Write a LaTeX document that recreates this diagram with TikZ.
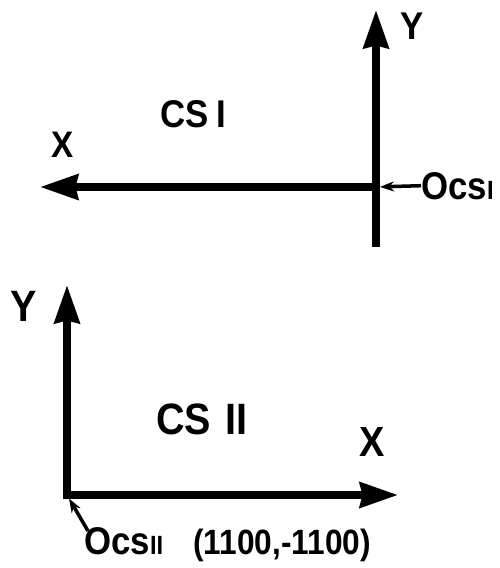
\documentclass[tikz,border=0pt]{standalone}
\usepackage{fontspec}
\setmainfont[FakeStretch=0.9]{Liberation Sans}
\usetikzlibrary{arrows.meta}

\begin{document}
\begin{tikzpicture}[
  x=0.02cm, y=-0.02cm,
  >={Stealth[length=0.76cm, width=0.5cm, inset=0.05cm]},
  axis/.style={line width=4.2pt},
  pointer/.style={line width=2pt, -{Stealth[length=0.28cm, width=0.2cm]}, shorten >=0.08cm},
  axislabel/.style={font=\fontsize{#1}{#1}\selectfont\bfseries, inner sep=0pt},
  origin/.style={font=\fontsize{22}{24}\selectfont\bfseries, inner sep=0pt, anchor=base west}
]
\useasboundingbox (0,0) rectangle (500,568);

% Coordinate system CS I
\coordinate (oI) at (376,187);
\coordinate (yItop) at (376,10);
\coordinate (yIbot) at (376,247);
\coordinate (xIend) at (40,187);
\draw[axis, ->] (yIbot) -- (yItop);
\draw[axis, ->] (oI) -- (xIend);
\node[axislabel=22] (yI) at (412,26) {Y};
\node[axislabel=21] (xI) at (63,145) {X};
\node[axislabel=22] (csI) at (193,114) {CS\hspace{0.16cm}I};
\node[origin] (oIlabel) at (421,199) {Ocs{\fontsize{15}{17}\selectfont I}};
\draw[pointer] (oIlabel.west) -- (oI);

% Coordinate system CS II
\coordinate (oII) at (67,495);
\coordinate (yIItop) at (67,285);
\coordinate (xIIend) at (398,495);
\draw[axis, <->] (yIItop) -- (oII) -- (xIIend);
\node[axislabel=25] (yII) at (24,306) {Y};
\node[axislabel=24] (xII) at (372,442) {X};
\node[axislabel=25] (csII) at (202,419) {CS\hspace{0.3cm}II};
\node[origin] (oIIlabel) at (84,554) {Ocs{\fontsize{15}{17}\selectfont II}\hspace{0.6cm}{\fontsize{20}{22}\selectfont(1100,-1100)}};
\coordinate (pII) at (88,531);
\draw[pointer] (pII) -- (oII);

\end{tikzpicture}
\end{document}
